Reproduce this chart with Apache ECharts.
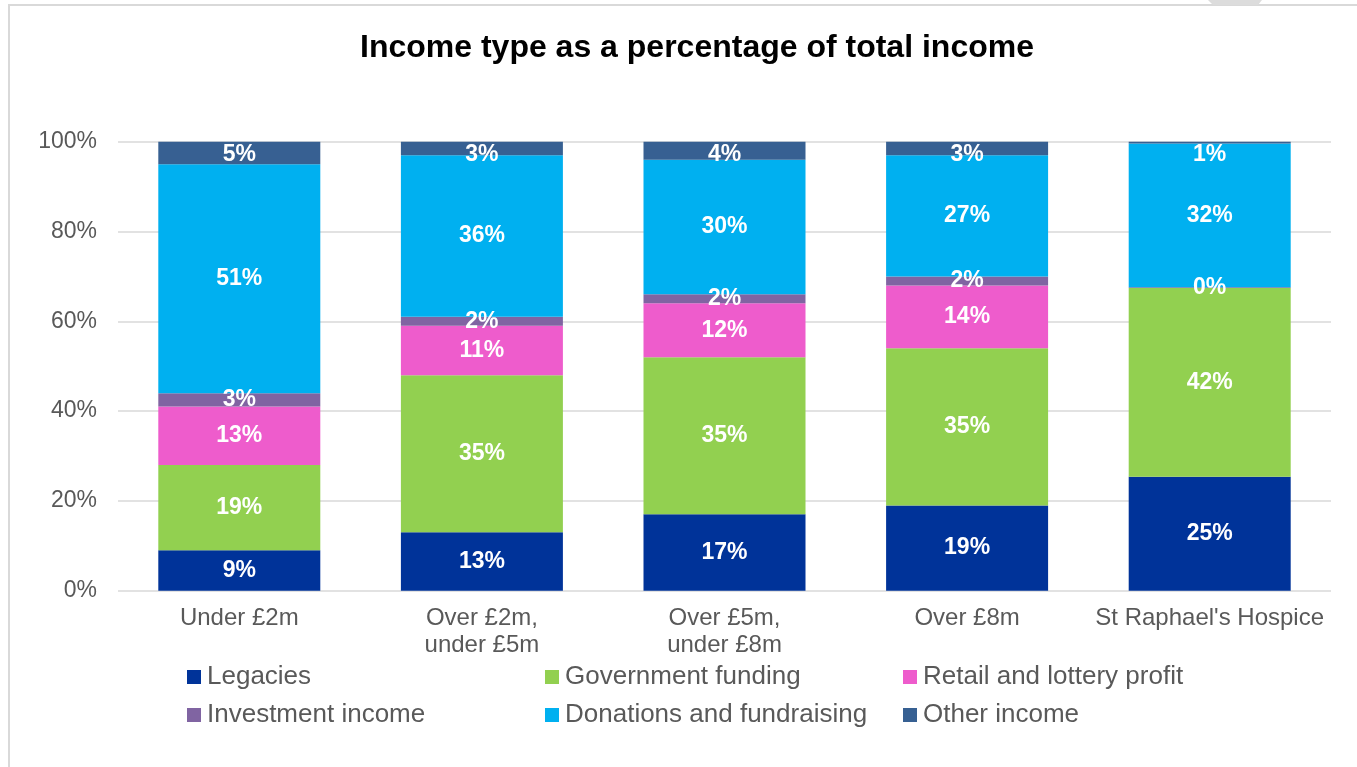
<!DOCTYPE html>
<html>
<head>
<meta charset="utf-8">
<title>Income type as a percentage of total income</title>
<script src="https://cdn.jsdelivr.net/npm/echarts@6/dist/echarts.min.js"></script>
<style>
  html, body { margin: 0; padding: 0; background: #ffffff; overflow: hidden; }
  #frame {
    position: absolute; left: 8px; top: 4px; width: 1400px; height: 800px;
    border-left: 2px solid #d9d9d9; border-top: 2px solid #d9d9d9;
  }
  #chart { position: absolute; left: 0; top: 0; width: 1357px; height: 767px; }
</style>
</head>
<body>
<div id="frame"></div>
<div id="chart"></div>
<script>
// Income bands compared in the chart
const categories = ['Under £2m', 'Over £2m,\nunder £5m', 'Over £5m,\nunder £8m', 'Over £8m', "St Raphael's Hospice"];

// Share of total income (%) per income type, one value per band
const legacies      = [9, 13, 17, 19, 25.4];
const government    = [19, 35, 35, 35, 42.0];
const retail        = [13, 11, 12, 14, -0.4];
const investment    = [3, 2, 2, 2, 0.2];
const donations     = [51, 36, 30, 27, 32.0];
const otherIncome   = [5, 3, 4, 3, 0.5];

const yTicks = [0, 20, 40, 60, 80, 100];

const seriesDefs = [
  { name: 'Legacies', data: legacies, color: '#003399' },
  { name: 'Government funding', data: government, color: '#92D050' },
  { name: 'Retail and lottery profit', data: retail, color: '#EE5CCC' },
  { name: 'Investment income', data: investment, color: '#8064A2' },
  { name: 'Donations and fundraising', data: donations, color: '#00B0F0' },
  { name: 'Other income', data: otherIncome, color: '#376092' }
];

// Legend is laid out in three columns of two rows
const legendColumns = [
  ['Legacies', 'Investment income'],
  ['Government funding', 'Donations and fundraising'],
  ['Retail and lottery profit', 'Other income']
];

const FONT = '"Liberation Sans", Arial, sans-serif';
const GRID_TOP = 141.7;

const chart = echarts.init(document.getElementById('chart'), null, { renderer: 'canvas' });

chart.setOption({
  animation: false,
  color: seriesDefs.map(s => s.color),
  title: {
    text: 'Income type as a percentage of total income',
    left: 355,
    top: 27,
    textStyle: { fontFamily: FONT, fontSize: 32, fontWeight: 'bold', color: '#000000' }
  },
  // page decoration peeking above the frame
  graphic: [
    { type: 'polygon', shape: { points: [[1208, 0], [1262, 0], [1258, 5], [1213, 5]] }, style: { fill: '#dcdcdc' }, silent: true }
  ],
  legend: legendColumns.map((names, i) => ({
    data: names,
    left: 187 + i * 358,
    top: 664,
    orient: 'vertical',
    padding: 0,
    icon: 'rect',
    itemWidth: 14,
    itemHeight: 14,
    itemGap: 12,
    textStyle: { fontFamily: FONT, fontSize: 26, lineHeight: 26, color: '#595959', padding: [0, 0, 0, 1] }
  })),
  grid: { left: 118, right: 26, top: GRID_TOP, bottom: 176.3, containLabel: false },
  xAxis: {
    type: 'category',
    data: categories,
    axisLine: { show: false },
    axisTick: { show: false },
    axisLabel: { fontFamily: FONT, fontSize: 24, color: '#595959', margin: 14, lineHeight: 27, interval: 0 }
  },
  yAxis: {
    type: 'value',
    min: yTicks[0],
    max: yTicks[yTicks.length - 1],
    interval: 20,
    axisLine: { show: false },
    axisTick: { show: false },
    splitLine: { lineStyle: { color: '#d9d9d9', width: 1.5 } },
    axisLabel: { fontFamily: FONT, fontSize: 23, color: '#595959', margin: 21, formatter: v => v + '%' }
  },
  // keep value labels inside the plot area when a band is too thin at the top
  labelLayout: function (params) {
    const r = params.labelRect;
    if (r.y < GRID_TOP) {
      return {
        x: r.x + r.width / 2,
        y: GRID_TOP + 12.5,
        align: 'center',
        verticalAlign: 'middle'
      };
    }
  },
  series: seriesDefs.map(s => ({
    name: s.name,
    type: 'bar',
    stack: 'income',
    data: s.data,
    barWidth: 162,
    clip: true,
    itemStyle: { color: s.color },
    label: {
      show: true,
      position: 'inside',
      fontFamily: FONT,
      fontSize: 23,
      fontWeight: 'bold',
      color: '#ffffff',
      formatter: p => (p.value < 0 ? '' : Math.round(p.value) + '%')
    }
  }))
});
</script>
</body>
</html>
